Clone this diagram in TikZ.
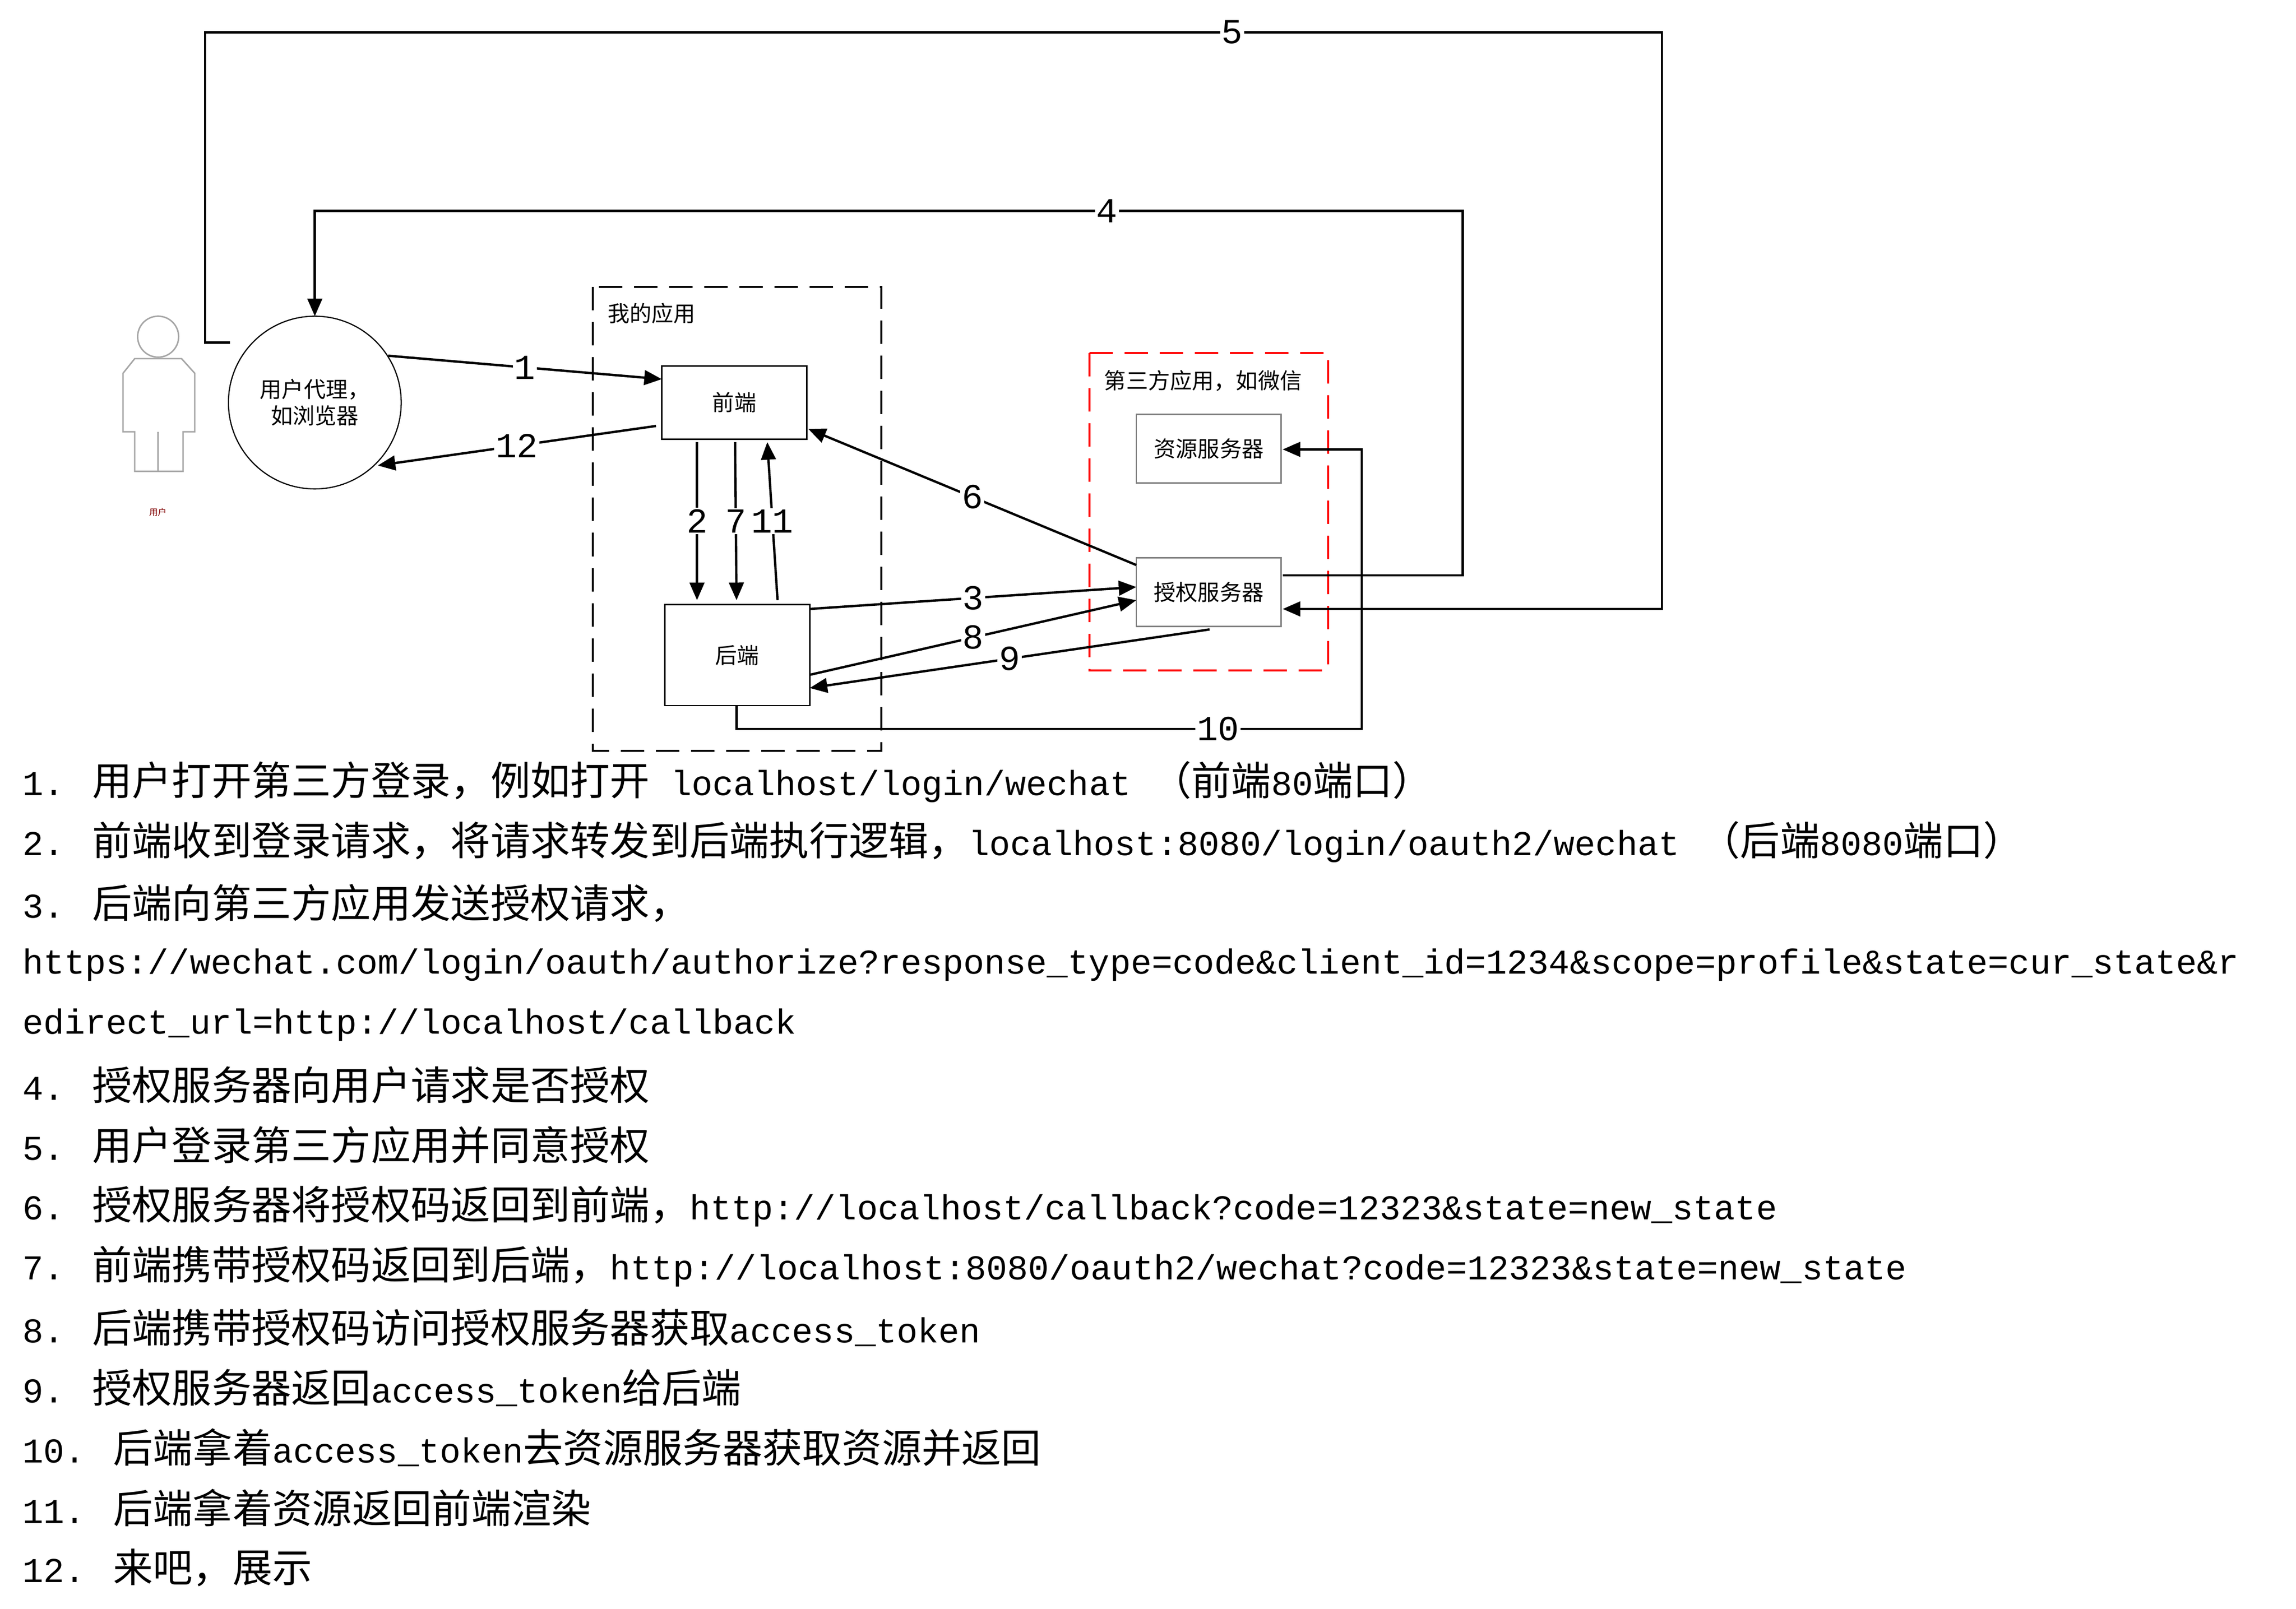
\documentclass[tikz,border=0pt]{standalone}
\usepackage{fontspec}
\setmainfont{Liberation Mono}
\newfontfamily\cjk{Noto Sans CJK SC}
\newcommand\Z[1]{{\cjk\fontsize{13.6}{14}\selectfont #1}}
\usetikzlibrary{arrows.meta}
\begin{document}
\begin{tikzpicture}[x=0.5pt,y=-0.5pt,
  box/.style={draw,line width=0.5pt,minimum width=49.5pt,inner sep=0},
  lab/.style={font=\cjk\fontsize{7.5}{9}\selectfont},
  num/.style={font=\fontsize{12}{12}\selectfont,fill=white,inner sep=0.5pt},
  arr/.style={line width=0.8pt,-{Triangle[length=6pt,width=5pt]}},
  ln/.style={anchor=west,inner sep=0,font=\fontsize{11.9}{14}\selectfont}]
\useasboundingbox[fill=white] (0,0) rectangle (1568,1099);
% person
\begin{scope}[draw=gray!70,line width=0.5pt]
\draw (108,230) circle (14);
\draw (92,245) -- (124,245) -- (133,255) -- (133,295) -- (125,295) -- (125,322) -- (92,322) -- (92,295) -- (84,295) -- (84,255) -- cycle;
\draw (108,295) -- (108,322);
\end{scope}
\node[font=\cjk\fontsize{3}{4}\selectfont,text=red!50!black] (user) at (108,350) {用户};
% agent
\node[draw,circle,minimum size=59pt,lab,align=center,line width=0.4pt] (ua) at (215,275) {用户代理，\\如浏览器};
% my app
\draw[dashed,line width=0.7pt,dash pattern=on 8pt off 4pt] (405,196) rectangle (602,513);
\node[lab,anchor=north west] (myapp) at (408,200) {我的应用};
\node[box,minimum height=25pt,lab] (fe) at (501.5,275) {前端};
\node[box,minimum height=34.5pt,lab] (be) at (503.5,447.5) {后端};
% third party
\draw[dashed,red,line width=0.7pt,dash pattern=on 8pt off 4pt] (744,241) rectangle (907,458);
\node[lab,anchor=north west] (tp) at (747,246) {第三方应用，如微信};
\node[box,draw=gray,minimum height=23.5pt,lab] (rs) at (825.5,306.5) {资源服务器};
\node[box,draw=gray,minimum height=23.5pt,lab] (as) at (825.5,404.5) {授权服务器};
% arrows
\draw[arr] (265,243) -- node[num]{1} (452,259);
\draw[arr] (448,291) -- node[num]{12} (258,318);
\draw[arr] (476,302) -- node[num,pos=0.5]{2} (476,410);
\draw[arr] (502,302) -- node[num,pos=0.5]{7} (503,410);
\draw[arr] (531,410) -- node[num,pos=0.5]{11} (524,302);
\draw[arr] (776,386) -- node[num]{6} (552,293);
\draw[arr] (553,416) -- node[num]{3} (776,401);
\draw[arr] (553,461) -- node[num]{8} (776,410);
\draw[arr] (826,430) -- node[num,pos=0.5]{9} (553,470);
\coordinate (c10a) at (503,498); \coordinate (c10b) at (930,498); \coordinate (c10c) at (930,307);
\draw[arr] (503,482) -- (c10a) -- node[num,pos=0.77]{10} (c10b) -- (c10c) -- (876,307);
\coordinate (c4a) at (999,393); \coordinate (c4b) at (999,144); \coordinate (c4c) at (215,144);
\draw[arr] (876,393) -- (c4a) -- (c4b) -- node[num,pos=0.31]{4} (c4c) -- (215,216);
\coordinate (c5a) at (140,234); \coordinate (c5b) at (140,22); \coordinate (c5c) at (1135,22); \coordinate (c5d) at (1135,416);
\draw[arr] (157,234) -- (c5a) -- (c5b) -- node[num,pos=0.705]{5} (c5c) -- (c5d) -- (876,416);
% list
\node[ln] (l1) at (15,534) {1. \Z{用户打开第三方登录，例如打开} localhost/login/wechat \Z{（前端}80\Z{端口）}};
\node[ln] (l2) at (15,575) {2. \Z{前端收到登录请求，将请求转发到后端执行逻辑，}localhost:8080/login/oauth2/wechat \Z{（后端}8080\Z{端口）}};
\node[ln] (l3) at (15,617) {3. \Z{后端向第三方应用发送授权请求，}};
\node[ln] (l3b) at (15,659) {https://wechat.com/login/oauth/authorize?response\_type=code\&client\_id=1234\&scope=profile\&state=cur\_state\&r};
\node[ln] (l3c) at (15,700) {edirect\_url=http://localhost/callback};
\node[ln] (l4) at (15,741) {4. \Z{授权服务器向用户请求是否授权}};
\node[ln] (l5) at (15,782) {5. \Z{用户登录第三方应用并同意授权}};
\node[ln] (l6) at (15,824) {6. \Z{授权服务器将授权码返回到前端，}http://localhost/callback?code=12323\&state=new\_state};
\node[ln] (l7) at (15,865) {7. \Z{前端携带授权码返回到后端，}http://localhost:8080/oauth2/wechat?code=12323\&state=new\_state};
\node[ln] (l8) at (15,907) {8. \Z{后端携带授权码访问授权服务器获取}access\_token};
\node[ln] (l9) at (15,948) {9. \Z{授权服务器返回}access\_token\Z{给后端}};
\node[ln] (l10) at (15,989) {10. \Z{后端拿着}access\_token\Z{去资源服务器获取资源并返回}};
\node[ln] (l11) at (15,1030) {11. \Z{后端拿着资源返回前端渲染}};
\node[ln] (l12) at (15,1071) {12. \Z{来吧，展示}};
\end{tikzpicture}
\end{document}
